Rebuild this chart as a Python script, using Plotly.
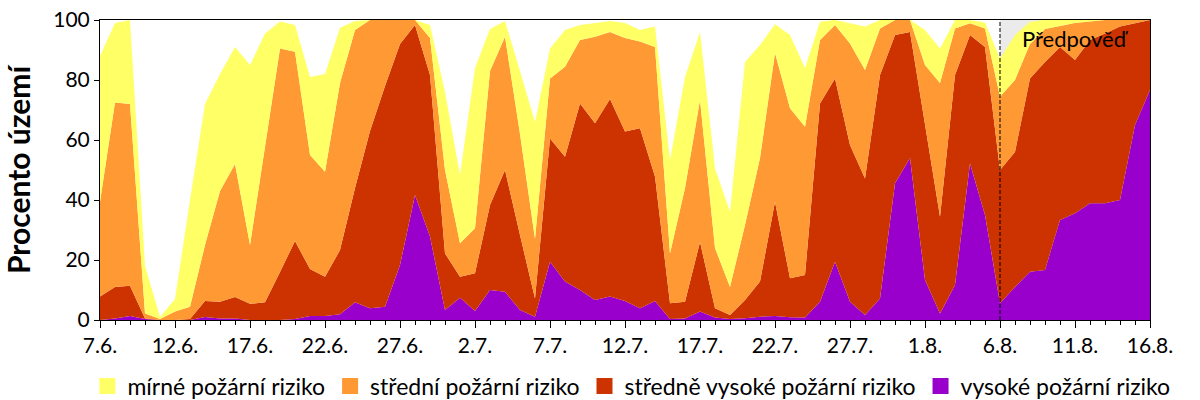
import plotly.graph_objs as go
import pandas as pd

# dny 7.6. - 16.8., od 6.8. predpoved
dny = pd.date_range('2015-06-07', '2015-08-16', freq='D')
zacatek_predpovedi = '2015-08-06'

# kumulativni procenta uzemi (od nejvyssiho rizika nahoru)
vysoke = [0, 0.5, 1.3, 0.3, 0, 0, 0, 1, 0.5, 0.5, 0, 0, 0,
          0.3, 1.3, 1.3, 1.9, 5.9, 3.9, 4.4, 18.3, 41.7, 27.8, 3.3,
          7.4, 3, 10, 9.4, 3.3, 1.1, 19.4, 12.8, 10, 6.7, 7.8, 6.3,
          3.9, 6.3, 0.3, 0.5, 2.8, 0.8, 0.3, 0.6, 1.1, 1.3, 0.9, 0.8,
          6.1, 19.4, 6.1, 1.7, 7.2, 45.6, 54, 13.3, 2.2, 11.7, 52.2,
          35, 5.6, 11, 16.1, 16.7, 33.3, 35.6, 38.9, 38.9, 40, 65, 76.7]

stredne_vysoke = [7.8, 11, 11.4, 0.5, 0, 0, 0.3, 6.3, 6.1, 7.7, 5.4, 5.9, 16,
                  26.3, 17, 14.4, 23.3, 44, 63, 78, 92, 98.3, 81.7, 22.2,
                  14.4, 15.6, 38.3, 50, 28.3, 7.2, 60.5, 54.4, 72.2, 65.6, 73.7, 62.8,
                  63.9, 47.8, 5.6, 6.1, 26, 3.9, 1.7, 6.7, 12.8, 39.4, 13.9, 15,
                  72.2, 80.5, 58.3, 47.2, 81.7, 95, 96, 65, 34.4, 81.7, 95,
                  91, 50, 56, 80.5, 86, 91, 86.7, 93.3, 95.5, 97.8, 98.9, 100]

stredni = [39.4, 72.5, 72, 2.2, 0.3, 2.8, 4.4, 25, 43, 52, 25, 57, 90.5,
           89.4, 55, 49.4, 79, 96.7, 100, 100, 100, 100, 94, 50,
           25.6, 30.6, 83, 94.4, 62, 27, 80.5, 84.4, 93.3, 94.4, 96, 94,
           92.8, 91, 22.2, 44, 73.3, 24, 11, 31.7, 54, 89, 70.6, 64.4,
           93.3, 98.3, 92.2, 83.3, 97.2, 100, 100, 85, 79, 97.2, 98.9,
           97.2, 74.4, 80, 92, 97, 98, 99, 99.5, 100, 100, 100, 100]

mirne = [88, 99, 100, 18, 1, 7, 40, 72, 82, 91, 85, 95.5, 99.5,
         98.3, 81, 82, 97.4, 99.7, 100, 100, 100, 100, 98.3, 76,
         48.3, 84, 97, 99.7, 83, 66, 90.5, 96.7, 98.3, 99, 99.7, 99,
         96.7, 97.8, 53.3, 81, 96, 50.6, 36, 86, 91.7, 98.6, 95, 84,
         99.4, 100, 99, 97.8, 100, 100, 100, 96.7, 90.5, 100, 100,
         99.2, 87.2, 95, 99.4, 100, 100, 100, 100, 100, 100, 100, 100]

nazvy = ['vysoké požární riziko', 'středně vysoké požární riziko',
         'střední požární riziko', 'mírné požární riziko']
barvy = ['#9900CC', '#CC3300', '#FF9933', '#FFFF66']
hodnoty = [vysoke, stredne_vysoke, stredni, mirne]

traces = []
for i, (name, col, y) in enumerate(zip(nazvy, barvy, hodnoty)):
    traces.append(go.Scatter(
        x=dny, y=y, name=name, mode='lines',
        line=dict(width=0, color=col),
        fill='tozeroy' if i == 0 else 'tonexty',
        fillcolor=col, showlegend=False,
        hoverinfo='x+y+name'
    ))

# legenda se ctverecky
for name, col in zip(nazvy, barvy):
    traces.append(go.Scatter(
        x=[None], y=[None], name=name, mode='markers',
        marker=dict(symbol='square', size=16, color=col)
    ))

layout = go.Layout(
    width=1200, height=400,
    margin=dict(l=100, r=50, t=20, b=80, autoexpand=False),
    paper_bgcolor='white', plot_bgcolor='white',
    font=dict(family='Lato', size=20, color='black'),
    xaxis=dict(
        type='date',
        range=[dny[0], dny[-1]],
        tick0=dny[0], dtick=5 * 86400000,
        tickformat='%-d.%-m.',
        ticks='outside', ticklen=7, tickcolor='black',
        minor=dict(dtick=86400000, ticks='outside', ticklen=4, tickcolor='black'),
        showline=True, linecolor='black', linewidth=1, mirror=True,
        showgrid=False, zeroline=False,
        tickfont=dict(size=21), ticklabeloverflow='allow'
    ),
    yaxis=dict(
        range=[0, 100], dtick=20,
        ticks='outside', ticklen=5, tickcolor='black',
        showline=True, linecolor='black', linewidth=1, mirror=True,
        showgrid=False, zeroline=False,
        tickfont=dict(size=21), ticklabeloverflow='allow',
        title=dict(text='<b>Procento území</b>', font=dict(size=30), standoff=16)
    ),
    legend=dict(
        orientation='h', traceorder='reversed',
        x=-0.012, xanchor='left', y=-0.22, yanchor='middle',
        font=dict(size=23), itemwidth=30
    ),
    shapes=[
        dict(type='rect', xref='x', yref='y', x0=zacatek_predpovedi, x1=dny[-1],
             y0=0, y1=100, fillcolor='#EBEBEB', line=dict(width=0), layer='below'),
        dict(type='line', xref='x', yref='y', x0=zacatek_predpovedi, x1=zacatek_predpovedi,
             y0=0, y1=100, line=dict(color='black', width=1, dash='4px,2px'))
    ],
    annotations=[
        dict(x='2015-08-11', y=94, xref='x', yref='y', text='Předpověď',
             showarrow=False, font=dict(size=22, color='black'))
    ],
    showlegend=True
)

fig = go.Figure(data=traces, layout=layout)
# bez okraje stranky, aby graf sedel presne do okna
fig.write_html("out.html", config={'displayModeBar': False},
               post_script="document.body.style.margin = '0';")
